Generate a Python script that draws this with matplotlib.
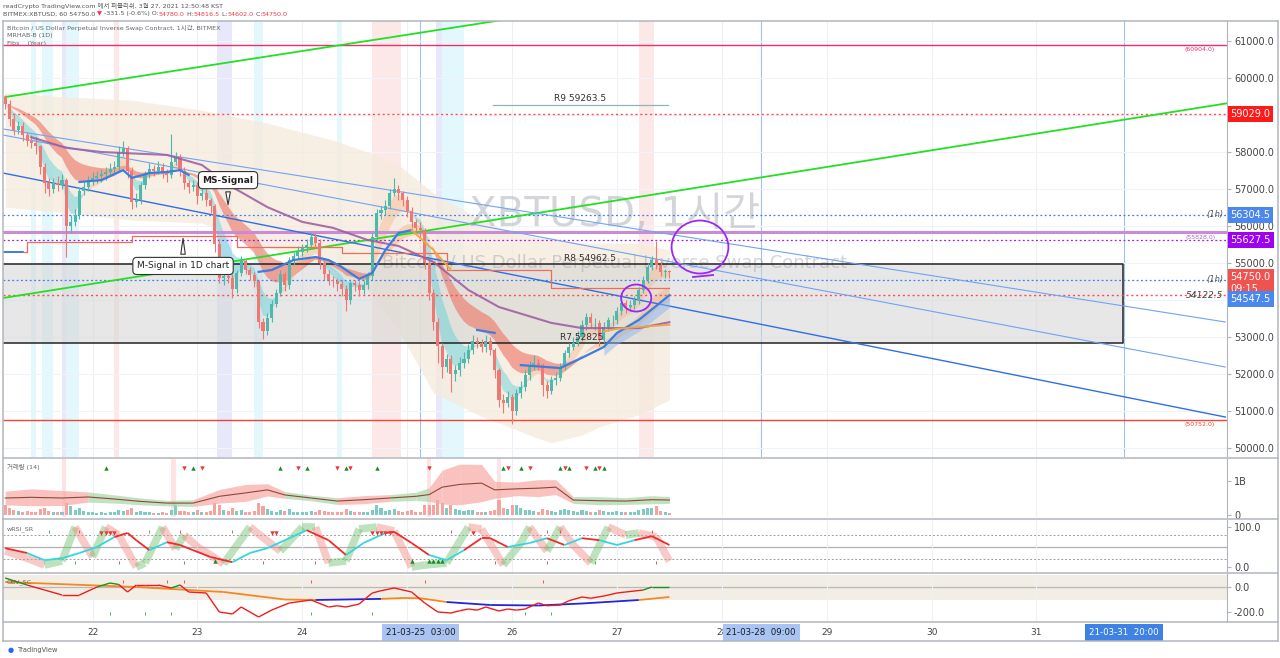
import numpy as np
import matplotlib
matplotlib.use('Agg')
import matplotlib.pyplot as plt
from matplotlib.patches import Ellipse, Rectangle
from matplotlib.collections import LineCollection
from matplotlib.lines import Line2D

plt.rcParams['font.family'] = ['DejaVu Sans', 'Noto Sans CJK KR']

# x axis unit = hours since 21 Mar 2021 00:00, one candle per hour
first_hour = 4
first_open = 59500
closes = [59300, 58900, 58600, 58700, 58450, 58300, 58250, 58150, 57600, 57150,
          57000, 57150, 57100, 57250, 56000, 56100, 56300, 56950, 57050, 57250,
          57300, 57350, 57400, 57450, 57550, 57600, 58000, 58100, 57500, 56650,
          56700, 57100, 57400, 57550, 57500, 57600, 57450, 57380, 57730, 57860,
          57500, 57160, 57050, 57100, 56800, 56900, 56700, 56550, 55500, 54600,
          54650, 54600, 54300, 54730, 55050, 54800, 54680, 54500, 53400, 53150,
          53500, 53900, 54200, 54700, 54400, 55080, 55200, 55300, 55400, 55480,
          55700, 55550, 55000, 54700, 54550, 54500, 54420, 54300, 54000, 54450,
          54400, 54270, 54400, 54650, 55700, 56350, 56430, 56550, 56900, 57000,
          56880, 56700, 56400, 56100, 55950, 55900, 55000, 54200, 53400, 52750,
          52200, 52400, 52000, 52100, 52300, 52400, 52650, 52900, 52840, 52730,
          52900, 52650, 52100, 51300, 51220, 51380, 51000, 51480, 51650, 51970,
          52200, 52300, 52250, 51700, 51550, 51840, 51900, 52190, 52560, 52730,
          52850, 53000, 53320, 53540, 53380, 53380, 52920, 53270, 53450, 53460,
          53700, 53920, 53810, 53860, 54000, 54270, 54550, 54890, 55080, 54950,
          54750, 54780, 54750]
highs = [59550, 59400, 59000, 58850, 58800, 58550, 58450, 58400, 58200, 57700,
         57300, 57300, 57350, 57400, 57300, 56300, 56450, 57050, 57200, 57350,
         57450, 57500, 57550, 57600, 57700, 57750, 58150, 58300, 58150, 57600,
         56900, 57200, 57500, 57700, 57650, 57750, 57700, 57550, 58500, 58000,
         57950, 57600, 57250, 57250, 57200, 57000, 57000, 56750, 56600, 55650,
         54800, 54750, 54700, 54800, 55200, 55100, 54900, 54750, 54550, 53500,
         53650, 54000, 54300, 54800, 54750, 55150, 55300, 55450, 55500, 55650,
         55850, 55800, 55650, 55100, 54800, 54650, 54600, 54550, 54400, 54550,
         54550, 54500, 54550, 54750, 55800, 56450, 56550, 56700, 57000, 57300,
         57100, 56950, 56800, 56500, 56200, 56100, 55950, 55100, 54300, 53500,
         52850, 52550, 52500, 52250, 52450, 52600, 52800, 53050, 53000, 52950,
         53050, 53000, 52700, 52150, 51450, 51550, 51450, 51600, 51800, 52100,
         52350, 52500, 52400, 52300, 51800, 51950, 52050, 52300, 52650, 52850,
         53000, 53150, 53450, 53650, 53650, 53500, 53450, 53400, 53550, 53600,
         53800, 54050, 54000, 54000, 54100, 54350, 54650, 55000, 55200, 55600,
         55050, 54850, 54816]
lows = [59150, 58700, 58450, 58500, 58300, 58150, 58100, 57950, 57400, 56900,
        56800, 56900, 56950, 57000, 55150, 55800, 56000, 56200, 56850, 56950,
        57100, 57150, 57200, 57250, 57350, 57400, 57500, 57900, 57300, 56450,
        56500, 56600, 57000, 57300, 57350, 57400, 57300, 57200, 57300, 57650,
        57350, 57000, 56900, 56950, 56600, 56700, 56550, 56350, 55300, 54450,
        54400, 54450, 54050, 54200, 54650, 54700, 54550, 54350, 53250, 52950,
        53050, 53400, 53800, 54100, 54250, 54300, 54950, 55100, 55200, 55300,
        55400, 55400, 54850, 54550, 54400, 54350, 54250, 54100, 53700, 53900,
        54250, 54100, 54150, 54300, 54550, 55600, 56200, 56300, 56450, 56800,
        56700, 56550, 56250, 55950, 55800, 55700, 54850, 54000, 53200, 52300,
        51900, 52050, 51500, 51800, 51950, 52150, 52300, 52550, 52700, 52600,
        52600, 52500, 51900, 51100, 50950, 51100, 50650, 50900, 51350, 51550,
        51850, 52100, 52100, 51400, 51350, 51450, 51700, 51800, 52100, 52450,
        52650, 52750, 52900, 53200, 53250, 53200, 52750, 52850, 53150, 53300,
        53350, 53600, 53650, 53700, 53750, 53900, 54200, 54450, 54800, 54850,
        54650, 54600, 54602]
volumes = [.30, .20, .15, .12, .10, .12, .08, .10, .18, .22,
           .12, .10, .08, .10, .35, .25, .15, .20, .12, .10,
           .08, .07, .08, .06, .09, .10, .15, .12, .14, .20,
           .10, .12, .10, .08, .07, .06, .08, .07, .15, .30,
           .12, .12, .10, .09, .15, .10, .08, .12, .35, .30,
           .15, .12, .20, .12, .15, .10, .09, .12, .35, .25,
           .18, .12, .10, .15, .12, .18, .10, .08, .09, .10,
           .12, .10, .15, .12, .10, .08, .09, .10, .18, .12,
           .10, .09, .08, .10, .15, .30, .20, .12, .15, .18,
           .12, .10, .12, .15, .10, .09, .30, .30, .30, .45,
           .35, .20, .30, .18, .15, .12, .14, .16, .10, .08,
           .09, .12, .15, .45, .20, .18, .30, .30, .20, .15,
           .14, .12, .10, .18, .15, .12, .10, .14, .18, .15,
           .12, .10, .16, .12, .10, .09, .14, .12, .10, .08,
           .12, .10, .08, .09, .10, .15, .18, .20, .22, .25,
           .12, .08, .06]

# envelope (beige band)
env_hours = [4, 18, 33, 49, 64, 79, 87, 94, 102, 113, 117, 125, 129, 136, 140, 149, 156]
env_upper = [59600, 59490, 59400, 59130, 58780, 58320, 58000, 57650, 56890, 56160,
             55950, 55700, 55640, 55540, 55540, 55540, 55350]
env_lower = [56510, 56350, 56160, 56080, 55430, 54810, 54270, 53190, 51490, 50850,
             50680, 50300, 50140, 50350, 50570, 50900, 51300]

# daily moving average (purple)
ma1d_hours = [10, 18, 26, 41, 49, 56, 64, 72, 79, 87, 94, 102, 110, 117, 129, 136, 149, 156]
ma1d_prices = [58400, 58110, 58000, 57920, 57650, 57050, 56510, 56110, 55950, 55620,
               55460, 55030, 54270, 53810, 53380, 53240, 53240, 53400]

nan = float('nan')
blue_hours = [21, 26, 31, 33, 37, 41, 44, 46, 50, 62, 65, 70, 75, 78, 81, 85, 88, 91,
              94, 97, 100, 112, 116, 118, 122, 131, 135, 141, 144, 149, 156]
blue_prices = [57190, 57240, 57510, 57300, 57430, 57460, 57510, 57380, nan, 54760,
               54810, 55080, 55160, 55080, 54890, 54570, 54730, 55350, 55810, 55890,
               nan, 53190, 53110, nan, 52240, 52160, 52380, 52730, 53110, 53460, 54130]
blue_fill_hours = [141, 144, 149, 156]
blue_fill_low = [52500, 52800, 53150, 53800]
orange_hours = [97, 102, 106, 120, 141, 144, 149, 156]
orange_prices = [55890, 55350, 54810, nan, 53150, 53220, 53270, 53330]

# M-Signal of the 1D chart (daily steps)
msig_hours = [8, 9, 33, 57, 81, 105, 129, 156]
msig_prices = [55300, 55570, 55730, 55430, 55270, 54810, 54320, 54320]

# horizontal levels
lvl_pink = 60904.0
lvl_r9 = 59263.5
lvl_red_dot = 59029.0
lvl_blue_dot1 = 56304.5
lvl_purple = 55828.0
lvl_purple_dot = 55627.5
lvl_blue_dot2 = 54547.5
lvl_red_dot2 = 54122.5
lvl_red = 50752.0
box_top, box_bottom = 54962.5, 52825.0

# trend lines (hour, price) pairs
green_up = [(4, 59486), (284, 64610)]
green_low = [(3.5, 54053), (284, 59324)]
blue_a = [(3.5, 58621), (283.2, 53405)]
blue_b = [(3.5, 58459), (283.2, 52188)]
blue_c = [(3.5, 57432), (283.2, 50837)]

# background highlight columns
bands_cyan = [(10, 11), (12.5, 15), (18, 21), (61, 63), (80, 81), (104, 109)]
bands_lav = [(17, 18), (52.5, 56), (102.5, 104)]
bands_pink = [(29, 30), (88, 94.5), (149, 152.5)]
vol_pink = [(17, 18), (42, 43), (100.5, 101.5), (116.5, 117.5)]
marker_hours = [99, 177, 260]

# volume band
vb_hours = [4, 10, 17, 23, 29, 35, 41, 47, 53, 59, 64, 68, 74, 80, 86, 92, 98, 101, 104,
            108, 113, 116, 121, 126, 130, 134, 140, 146, 152, 156]
vb_vals = [.50, .52, .50, .53, .47, .40, .35, .35, .55, .65, .74, .59, .50, .41, .45, .50,
           .55, .60, .82, .90, .94, .74, .77, .79, .82, .44, .42, .41, .45, .44]
vb_hw = [.20, .25, .22, .15, .12, .10, .08, .10, .20, .25, .18, .10, .08, .10, .12, .10,
         .12, .20, .50, .60, .55, .25, .20, .25, .22, .10, .12, .10, .12, .10]
vb_red = [1, 1, 1, 0, 0, 0, 0, 1, 1, 1, 1, 0, 0, 1, 1, 0, 0, 1, 1, 1, 1, 1, 1, 1, 1,
          0, 0, 0, 0, 0]
vol_tri_up = [27, 47, 67, 73, 82, 89, 118, 122, 131, 133, 139, 141]
vol_tri_dn = [45, 49, 71, 80, 83, 101, 119, 124, 132, 137, 140]

# wRSI panel
rsi_hours = [4, 9, 13, 17, 21, 25, 29, 32, 34, 37, 41, 44, 47, 51, 56, 60, 64, 68, 73, 78,
             82, 86, 91, 93, 97, 101, 105, 109, 113, 115, 119, 124, 128, 132, 136, 140,
             144, 148, 152, 156]
rsi_vals = [47, 35, 17, 22, 35, 50, 75, 85, 67, 42, 62, 55, 42, 25, 12, 35, 47, 67, 92, 67,
            30, 60, 85, 88, 60, 30, 17, 42, 72, 72, 50, 60, 72, 55, 72, 67, 55, 67, 77, 55]
rsi_red = [1, 0, 0, 0, 0, 0, 1, 1, 1, 0, 1, 1, 1, 1, 0, 0, 0, 0, 1, 1, 0, 0, 1, 1, 1, 0,
           0, 1, 1, 1, 0, 0, 1, 0, 1, 0, 0, 1, 1]
fast_hours = [4, 9, 13, 17, 20, 24, 27, 30, 34, 36, 40, 43, 45, 48, 51, 54, 60, 64, 67, 72,
              75, 78, 82, 85, 89, 93, 97, 100, 105, 110, 113, 118, 122, 124, 128, 131, 134,
              138, 142, 146, 149, 153, 156]
fast_vals = [40, 22, 5, 15, 100, 25, 100, 80, 0, 10, 100, 45, 80, 50, 30, 8, 100, 65, 40,
             100, 100, 10, 15, 95, 100, 90, 0, 5, 10, 100, 95, 5, 60, 100, 40, 100, 55, 10,
             100, 80, 85, 75, 15]
rsi_tri_dn = [26, 27, 28, 29, 65, 66, 88, 89, 90, 91, 92, 111]
rsi_tri_up = [52, 97, 101, 102, 103, 104]
rsi_tick_top_g = [14, 37, 56]
rsi_tick_top_r = [21, 44, 106, 128, 131, 152]
rsi_tick_bot_g = [20, 139]
rsi_tick_bot_r = [30, 45, 63, 75, 116, 128, 153]

# third panel
slow_hours = [4, 34, 54, 68, 75, 90, 95, 99, 105, 115, 126, 136, 149, 156]
slow_vals = [40, 0, -40, -100, -104, -95, -88, -90, -120, -144, -148, -132, -104, -80]
slow_blue = [0, 0, 0, 0, 1, 0, 0, 0, 1, 1, 1, 1, 0]
pf_hours = [4, 9, 13, 17, 21, 25, 28, 30, 32, 34, 36, 39, 42, 44, 46, 50, 53, 56, 58, 62,
            65, 69, 74, 78, 80, 82, 85, 88, 90, 93, 97, 100, 103, 106, 108, 110, 112, 114,
            117, 119, 121, 123, 126, 128, 131, 133, 136, 138, 141, 144, 146, 150, 152, 156]
pf_vals = [72, 16, -24, -64, -64, 0, 32, 20, -40, 16, 16, 16, -8, 16, -40, -48, -200, -216,
           -160, -240, -184, -128, -104, -160, -150, -160, -136, -48, -30, -8, -40, -128,
           -200, -208, -190, -176, -185, -160, -192, -176, -185, -176, -128, -150, -144,
           -110, -80, -90, -72, -48, -40, -24, 0, 0]
pf_green = [(4, 9), (25, 30), (42, 44), (150, 156)]
p3_tick_top = [31, 41, 45, 74, 100, 127]
p3_tick_bot = [28, 36, 42, 74, 88, 123, 129]

days = [22, 23, 24, 25, 26, 27, 28, 29, 30, 31]

# ---------------------------------------------------------------
W, H = 1280, 658
fig = plt.figure(figsize=(12.8, 6.58), dpi=100)


def rect(x0, y0, x1, y1):
    return [x0 / W, 1 - y1 / H, (x1 - x0) / W, (y1 - y0) / H]


ax = fig.add_axes(rect(3, 21, 1227, 457))
ax1 = fig.add_axes(rect(3, 459, 1227, 517))
ax2 = fig.add_axes(rect(3, 520, 1227, 572))
ax3 = fig.add_axes(rect(3, 574, 1227, 621))
axt = fig.add_axes(rect(3, 622, 1227, 641))

xmin, xmax = 3.5, 283.6
day_hours = [24 * (d - 21) for d in days]
for a in (ax, ax1, ax2, ax3, axt):
    a.set_xlim(xmin, xmax)
    for s in a.spines.values():
        s.set_visible(False)
    a.tick_params(axis='x', bottom=False, labelbottom=False)
    a.set_xticks(day_hours)
    a.grid(axis='x', color='#edf0f5', lw=0.8, zorder=0)
    a.set_axisbelow(True)
for a in (ax, ax1, ax2, ax3):
    a.yaxis.tick_right()
    a.spines['right'].set_visible(True)
    a.spines['right'].set_color('#b2b5be')
    a.tick_params(axis='y', labelsize=7, colors='#444444', length=3, color='#b2b5be', pad=2)

hours = np.arange(first_hour, first_hour + len(closes))
closes = np.array(closes, float)
opens = np.r_[first_open, closes[:-1]]
up = closes >= opens

# ---------------- main chart ----------------
ax.set_ylim(49756, 61541)
ticks = list(range(50000, 61001, 1000))
ax.set_yticks(ticks)
# 59000 and 54000 sit under the price tags
ax.set_yticklabels(['' if t in (59000, 54000) else f'{t:.1f}' for t in ticks])
ax.grid(axis='y', color='#f0f3fa', lw=0.8)

for a0, a1 in bands_cyan:
    ax.axvspan(a0, a1, color='#d8f6fb', alpha=0.7, lw=0, zorder=0.3)
for a0, a1 in bands_lav:
    ax.axvspan(a0, a1, color='#e3e3fb', alpha=0.8, lw=0, zorder=0.3)
for a0, a1 in bands_pink:
    ax.axvspan(a0, a1, color='#fde3e3', alpha=0.8, lw=0, zorder=0.3)
for h in marker_hours:
    ax.axvline(h, color='#9fc0f5', lw=0.8, zorder=0.4)

ax.fill_between(env_hours, env_lower, env_upper, color='#f5ebdc', alpha=0.8, lw=0, zorder=0.6)

ax.add_patch(Rectangle((xmin, box_bottom), 259.8 - xmin, box_top - box_bottom,
                       fc='#d4d4d4', alpha=0.55, ec='none', zorder=0.7))
ax.plot([xmin, 259.8, 259.8, xmin], [box_top, box_top, box_bottom, box_bottom],
        color='#222222', lw=1.1, zorder=2)

ax.text(0.5, 0.555, 'XBTUSD, 1시간', transform=ax.transAxes, fontsize=29,
        color='#9598a1', alpha=0.4, ha='center', va='center', zorder=0.8)
ax.text(0.5, 0.445, 'Bitcoin / US Dollar Perpetual Inverse Swap Contract', transform=ax.transAxes,
        fontsize=13, color='#9598a1', alpha=0.4, ha='center', va='center', zorder=0.8)


def ema(v, n):
    k = 2 / (n + 1)
    out = [v[0]]
    for x in v[1:]:
        out.append(out[-1] + k * (x - out[-1]))
    return np.array(out)


e3, e8 = ema(closes, 3), ema(closes, 8)
e14, e20 = ema(closes, 14), ema(closes, 24)
ax.fill_between(hours, e14, e20, where=e14 < e20, interpolate=True, color='#ee7363', alpha=0.6, lw=0, zorder=1.4)
ax.fill_between(hours, e14, e20, where=e14 >= e20, interpolate=True, color='#f5b07a', alpha=0.45, lw=0, zorder=1.4)
ax.fill_between(hours, e3, e8, where=e3 < e8, interpolate=True, color='#59d0d8', alpha=0.45, lw=0, zorder=1.5)
ax.fill_between(hours, e3, e8, where=e3 >= e8, interpolate=True, color='#f6b487', alpha=0.4, lw=0, zorder=1.5)

# levels
ax.axhline(lvl_pink, color='#ee2f6b', lw=1.0, zorder=2)
ax.axhline(lvl_red_dot, color='#ff4d4d', lw=1.0, ls=(0, (1.5, 2)), zorder=2)
ax.axhline(lvl_blue_dot1, color='#3d7ff0', lw=0.9, ls=(0, (1.5, 2)), zorder=2)
ax.axhline(lvl_purple, color='#c98bd6', lw=2.2, zorder=2)
ax.axhline(lvl_purple_dot, color='#9b1fe8', lw=0.9, ls=(0, (1.5, 2)), zorder=2)
ax.axhline(lvl_blue_dot2, color='#3d7ff0', lw=0.9, ls=(0, (1.5, 2)), zorder=2)
ax.axhline(lvl_red_dot2, color='#ff4d4d', lw=1.0, ls=(0, (1.5, 2)), zorder=2)
ax.axhline(lvl_red, color='#f44336', lw=1.0, zorder=2)
ax.plot([115.7, 155.7], [lvl_r9, lvl_r9], color='#8fb5b5', lw=0.9, zorder=2)

for (p, c, lw) in [(green_up, '#22e022', 1.3), (green_low, '#22e022', 1.3),
                   (blue_a, '#6fa4f2', 0.8), (blue_b, '#6fa4f2', 0.8), (blue_c, '#2f6fe6', 1.0)]:
    ax.plot([p[0][0], p[1][0]], [p[0][1], p[1][1]], color=c, lw=lw, zorder=2.2)

# M-signal step line
ax.plot([xmin, 8], [msig_prices[0], msig_prices[0]], color='#2f6fe6', lw=1.3, zorder=2.3)
ax.plot(msig_hours, msig_prices, drawstyle='steps-post', color='#f26a5a', lw=0.9, zorder=2.3)

# candles
cu, cd = '#4fb8ad', '#ef7874'
cols = np.where(up, cu, cd)
ax.vlines(hours, lows, highs, colors=cols, lw=0.8, zorder=3)
ax.bar(hours, closes - opens, bottom=opens, width=0.7, color=cols, lw=0, zorder=3.1)

# moving averages
ax.plot(ma1d_hours, ma1d_prices, color='#9c5a9e', lw=1.5, alpha=0.85, zorder=3.5)
ax.fill_between(blue_fill_hours, blue_fill_low, blue_prices[-4:], color='#8fb6ef', alpha=0.5, lw=0, zorder=3.4)
ax.plot(blue_hours, blue_prices, color='#3b7de0', lw=1.6, zorder=3.6)
ax.plot(orange_hours, orange_prices, color='#f0a63c', lw=1.3, zorder=3.6)

# labels on levels
tr = ax.get_yaxis_transform()
ax.text(0.978, lvl_pink - 60, '(60904.0)', transform=tr, fontsize=4.5, color='#ee2f6b', ha='center', va='top')
ax.text(0.978, lvl_purple - 60, '(55828.0)', transform=tr, fontsize=4.5, color='#b06ac0', ha='center', va='top')
ax.text(0.978, lvl_red - 60, '(50752.0)', transform=tr, fontsize=4.5, color='#f44336', ha='center', va='top')
ax.text(0.997, lvl_blue_dot1, '(1h)', transform=tr, fontsize=6, style='italic', color='#555555', ha='right', va='center')
ax.text(0.997, lvl_blue_dot2, '(1h)', transform=tr, fontsize=6, style='italic', color='#555555', ha='right', va='center')
ax.text(0.997, lvl_red_dot2, '54122.5', transform=tr, fontsize=6.5, style='italic', color='#444444', ha='right', va='center')
ax.text(135.6, lvl_r9 + 60, 'R9 59263.5', fontsize=6.5, color='#333333', ha='center', va='bottom', zorder=5)
ax.text(137.9, box_top + 50, 'R8 54962.5', fontsize=6.5, color='#333333', ha='center', va='bottom', zorder=5)
ax.text(136, box_bottom + 50, 'R7 52825', fontsize=6.5, color='#333333', ha='center', va='bottom', zorder=5)

# callouts
ax.annotate('MS-Signal', xy=(55, 56500), xytext=(55, 57240), ha='center', va='center', fontsize=6.5,
            fontweight='bold', color='#222222', zorder=6,
            bbox=dict(boxstyle='round,pad=0.45', fc='white', ec='#333333', lw=0.8),
            arrowprops=dict(arrowstyle='wedge,tail_width=0.5,shrink_factor=0.5', fc='white', ec='#333333', lw=0.8))
ax.annotate('M-Signal in 1D chart', xy=(44.7, 55740), xytext=(44.7, 54920), ha='center', va='center',
            fontsize=6.5, color='#222222', zorder=6,
            bbox=dict(boxstyle='round,pad=0.45', fc='white', ec='#333333', lw=0.8),
            arrowprops=dict(arrowstyle='wedge,tail_width=0.5,shrink_factor=0.5', fc='white', ec='#333333', lw=0.8))

# hand drawn circles
ax.add_patch(Ellipse((148.4, 54053), 6.9, 730, fc='none', ec='#9b27f0', lw=1.3, zorder=6))
ax.add_patch(Ellipse((163, 55432), 13, 1432, fc='none', ec='#9b27f0', lw=1.3, zorder=6))
ax.plot([161.4, 166], [54621, 54675], color='#9b27f0', lw=1.3, zorder=6)

# price scale tags
for price, txt, col, dy in [(lvl_red_dot, '59029.0', '#ff1a1a', 0), (lvl_blue_dot1, '56304.5', '#4a88ee', 0),
                            (lvl_purple_dot, '55627.5', '#9e00f0', 0), (54750.0, '54750.0\n09:15', '#ef5350', -7.5),
                            (lvl_blue_dot2, '54547.5', '#4a88ee', -14)]:
    ax.annotate(txt, xy=(1.0, price), xycoords=('axes fraction', 'data'), xytext=(2.5, dy),
                textcoords='offset points', ha='left', va='center', fontsize=7, color='white',
                linespacing=1.25, annotation_clip=False, zorder=7,
                bbox=dict(boxstyle='square,pad=0.3', fc=col, ec='none'))

# legend text
for i, s in enumerate(['Bitcoin / US Dollar Perpetual Inverse Swap Contract, 1시간, BITMEX',
                       'MRHAB-B (1D)', 'Fibs    (Year)']):
    ax.text(4 / 1224, 1 - (7 + 7.5 * i) / 436, s, transform=ax.transAxes, fontsize=4.6,
            color='#666666', ha='left', va='center', zorder=8)

# ---------------- volume panel ----------------
ax1.set_ylim(-0.06, 1.65)
ax1.set_yticks([0, 1])
ax1.set_yticklabels(['0', '1B'])
for a0, a1 in vol_pink:
    ax1.axvspan(a0, a1, color='#fde0e0', alpha=0.9, lw=0, zorder=0.3)
vcol = np.where(up, '#7fcbc3', '#f4a3a0')
ax1.bar(hours, volumes, width=0.7, color=vcol, lw=0, zorder=1)
vb_vals_a = np.array(vb_vals)
vb_hw_a = np.array(vb_hw)
for i in range(len(vb_hours) - 1):
    c = '#f7a9a4' if vb_red[i] else '#a8d5a6'
    ax1.fill_between(vb_hours[i:i + 2], vb_vals_a[i:i + 2] - vb_hw_a[i:i + 2],
                     vb_vals_a[i:i + 2] + vb_hw_a[i:i + 2], color=c, alpha=0.7, lw=0, zorder=1.2)
ax1.plot(vb_hours, vb_vals, color='#8a4a3a', lw=0.8, zorder=2)
ax1.scatter(vol_tri_up, [1.38] * len(vol_tri_up), marker='^', s=10, color='#1a8a2a', zorder=3, lw=0)
ax1.scatter(vol_tri_dn, [1.38] * len(vol_tri_dn), marker='v', s=10, color='#e53935', zorder=3, lw=0)
ax1.text(4 / 1224, 0.86, '거래량 (14)', transform=ax1.transAxes, fontsize=4.6, color='#666666', va='center')

# ---------------- wRSI panel ----------------
ax2.set_ylim(-12.5, 117.5)
ax2.set_yticks([0, 100])
ax2.set_yticklabels(['0.0', '100.0'])
ax2.axhline(80, color='#9e9e9e', lw=0.7, ls=(0, (2, 2)), zorder=0.5)
ax2.axhline(50, color='#b0b0b0', lw=0.9, zorder=0.5)
ax2.axhline(20, color='#9e9e9e', lw=0.7, ls=(0, (2, 2)), zorder=0.5)
fh, fv = np.array(fast_hours, float), np.array(fast_vals, float)
segs = [[(fh[i], fv[i]), (fh[i + 1], fv[i + 1])] for i in range(len(fh) - 1)]
scol = ['#6fbf6f' if fv[i + 1] >= fv[i] else '#f18a84' for i in range(len(fh) - 1)]
ax2.add_collection(LineCollection(segs, colors=scol, lw=5.5, alpha=0.45, zorder=1, capstyle='butt'))
rh, rv = np.array(rsi_hours, float), np.array(rsi_vals, float)
segs = [[(rh[i], rv[i]), (rh[i + 1], rv[i + 1])] for i in range(len(rh) - 1)]
scol = ['#f02a2a' if r else '#33d6e0' for r in rsi_red]
ax2.add_collection(LineCollection(segs, colors=scol, lw=1.3, zorder=2))
ax2.scatter(rsi_tri_dn, [85] * len(rsi_tri_dn), marker='v', s=10, color='#e53935', zorder=3, lw=0)
ax2.scatter(rsi_tri_up, [15] * len(rsi_tri_up), marker='^', s=10, color='#1a8a2a', zorder=3, lw=0)
ax2.vlines(rsi_tick_top_g, 86, 93, color='#4caf50', lw=0.7)
ax2.vlines(rsi_tick_top_r, 86, 93, color='#f05050', lw=0.7)
ax2.vlines(rsi_tick_bot_g, 8, 15, color='#4caf50', lw=0.7)
ax2.vlines(rsi_tick_bot_r, 8, 15, color='#f05050', lw=0.7)
ax2.text(4 / 1224, 0.82, 'wRSI_SR', transform=ax2.transAxes, fontsize=4.6, color='#666666', va='center')

# ---------------- third panel ----------------
ax3.set_ylim(-272, 104)
ax3.set_yticks([0, -200])
ax3.set_yticklabels(['0.0', '-200.0'])
ax3.axhspan(-100, 100, color='#f3eee5', lw=0, zorder=0.2)
ax3.axhline(0, color='#b8b8b8', lw=0.9, zorder=0.5)
sh, sv = np.array(slow_hours, float), np.array(slow_vals, float)
segs = [[(sh[i], sv[i]), (sh[i + 1], sv[i + 1])] for i in range(len(sh) - 1)]
ax3.add_collection(LineCollection(segs, colors=['#2323e0' if b else '#f5891f' for b in slow_blue],
                                  lw=1.3, zorder=2))
ph, pv = np.array(pf_hours, float), np.array(pf_vals, float)
segs = [[(ph[i], pv[i]), (ph[i + 1], pv[i + 1])] for i in range(len(ph) - 1)]
pcol = []
for i in range(len(ph) - 1):
    mid = (ph[i] + ph[i + 1]) / 2
    pcol.append('#1e8e1e' if any(a0 <= mid <= a1 for a0, a1 in pf_green) else '#ee1c1c')
ax3.add_collection(LineCollection(segs, colors=pcol, lw=1.0, zorder=3))
ax3.vlines(p3_tick_top, 30, 55, color='#f05050', lw=0.7)
ax3.vlines(p3_tick_bot, -225, -200, color='#4caf50', lw=0.7)
ax3.text(4 / 1224, 0.83, 'OBV_SC', transform=ax3.transAxes, fontsize=4.6, color='#666666', va='center')

# ---------------- time axis ----------------
axt.set_ylim(0, 1)
axt.set_yticks([])
axt.grid(False)
for d, h in zip(days, day_hours):
    if d != 25:
        axt.text(h, 0.45, str(d), ha='center', va='center', fontsize=6.5, color='#444444', zorder=2)
for h, s, fc, tc in [(99, '21-03-25  03:00', '#a9c4f3', '#1a1a1a'),
                     (177, '21-03-28  09:00', '#a9c4f3', '#1a1a1a'),
                     (260, '21-03-31  20:00', '#3f82e6', 'white')]:
    axt.text(h, 0.45, s, ha='center', va='center', fontsize=6.2, color=tc, zorder=5,
             bbox=dict(boxstyle='square,pad=0.45', fc=fc, ec='none'))

# frame lines
for y in (21, 458, 518.5, 573, 621.5, 641):
    fig.add_artist(Line2D([3 / W, 1278 / W], [1 - y / H] * 2, color='#b2b5be', lw=1.1))
for x in (3, 1278):
    fig.add_artist(Line2D([x / W] * 2, [1 - 21 / H, 1 - 641 / H], color='#b2b5be', lw=1.1))

# header lines
renderer = fig.canvas.get_renderer()


def seq_text(x_px, y_px, parts, size):
    x = x_px
    for s, c in parts:
        t = fig.text(x / W, 1 - y_px / H, s, color=c, fontsize=size, ha='left', va='center')
        x += t.get_window_extent(renderer).width


g, r = '#555555', '#f23645'
seq_text(3, 6, [('readCrypto TradingView.com 에서 퍼블리쉬, 3월 27, 2021 12:50:48 KST', g)], 4.6)
seq_text(3, 14, [('BITMEX:XBTUSD, 60 54750.0 ', g), ('▼', r), (' -331.5 (-0.6%) O:', g),
                 ('54780.0', r), (' H:', g), ('54816.5', r), (' L:', g), ('54602.0', r),
                 (' C:', g), ('54750.0', r)], 4.6)
fig.text(8 / W, 1 - 650 / H, '●', fontsize=5, color='#2962ff', va='center')
fig.text(18 / W, 1 - 650 / H, 'TradingView', fontsize=4.8, color='#555555', va='center')

fig.savefig('out.png', dpi=100)
